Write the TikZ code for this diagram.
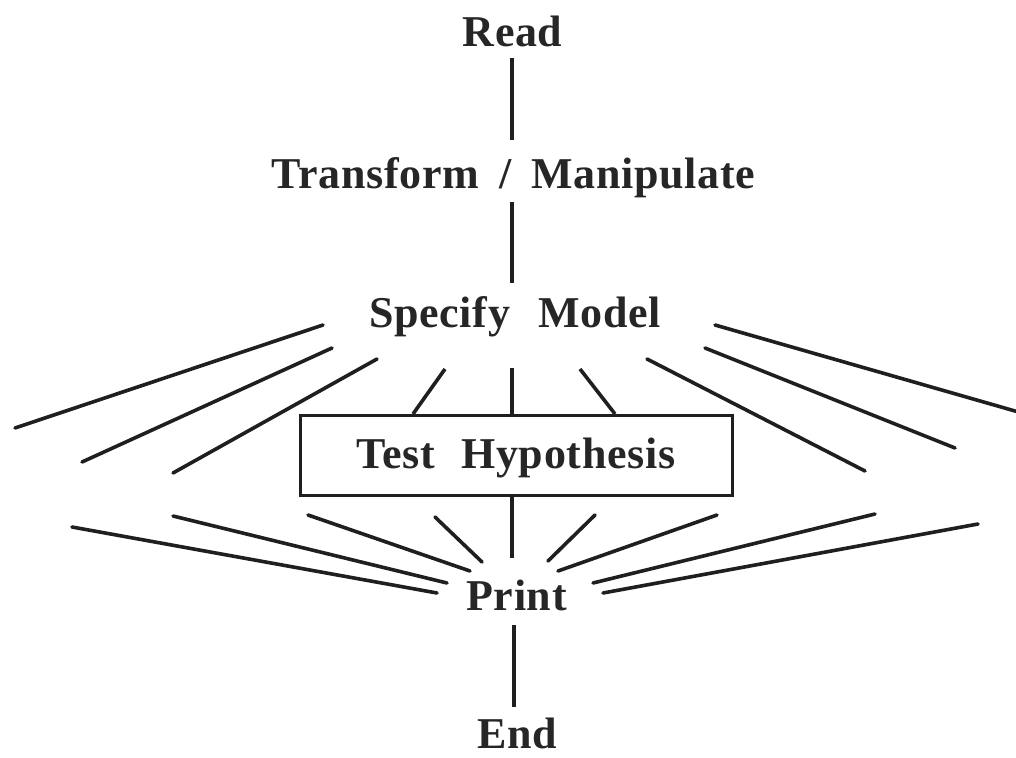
\documentclass[tikz,border=0pt]{standalone}
\usepackage{fontspec}
\setmainfont{Liberation Serif}[LetterSpace=1.5]
\begin{document}
\begin{tikzpicture}[x=1pt,y=-1pt,
  lbl/.style={inner sep=0pt, anchor=base, text=black!85, text depth=0pt,
    font=\fontsize{44}{50}\selectfont\bfseries},
  stroke/.style={line width=3.6pt, draw=black!88, line cap=round},
  vstroke/.style={line width=3.2pt, draw=black!88, line cap=butt},
  boxstyle/.style={draw=black!88, line width=3pt, minimum width=432pt,
    minimum height=80pt, inner sep=0pt}]
\useasboundingbox (0,0) rectangle (1016,757);
\begin{scope}
\clip (0,0) rectangle (1016,757);
% text nodes
\node[lbl] (read) at (512.5,47) {Read};
\node[lbl] (trans) at (513.5,188) {Transform\hspace{20pt}/\hspace{20pt}Manipulate};
\node[lbl] (spec) at (515,327) {Specify\hspace{28pt}Model};
\node[boxstyle] (box) at (516,455) {};
\node[lbl] (test) at (516,468) {Test\hspace{26pt}Hypothesis};
\node[lbl] (print) at (516.5,610) {Print};
\node[lbl] (end) at (517.5,748) {End};

% vertical connectors
\coordinate (r1) at (512,58);   \coordinate (r2) at (512,140);
\coordinate (t1) at (512,202);  \coordinate (t2) at (512,283);
\coordinate (s1) at (512,368);
\coordinate (b1) at (512,558);
\coordinate (p1) at (514,625);  \coordinate (p2) at (514,707);
\draw[vstroke] (r1) -- (r2);
\draw[vstroke] (t1) -- (t2);
\draw[vstroke] (s1) -- (box.north -| s1);
\draw[vstroke] (box.south -| b1) -- (b1);
\draw[vstroke] (p1) -- (p2);

% upper fan
\coordinate (ua1) at (323,325); \coordinate (ua2) at (15,428);
\coordinate (ub1) at (332,348); \coordinate (ub2) at (82,462);
\coordinate (uc1) at (377,359); \coordinate (uc2) at (173,473);
\coordinate (ud1) at (445,369); \coordinate (ud2) at (413,414);
\coordinate (ue1) at (580,369); \coordinate (ue2) at (615,414);
\coordinate (uf1) at (647,359); \coordinate (uf2) at (865,471);
\coordinate (ug1) at (705,348); \coordinate (ug2) at (955,448);
\coordinate (uh1) at (715,325); \coordinate (uh2) at (1022,413);
\draw[stroke] (ua1) -- (ua2);
\draw[stroke] (ub1) -- (ub2);
\draw[stroke] (uc1) -- (uc2);
\draw[stroke,line cap=butt] (ud1) -- (ud2);
\draw[stroke,line cap=butt] (ue1) -- (ue2);
\draw[stroke] (uf1) -- (uf2);
\draw[stroke] (ug1) -- (ug2);
\draw[stroke] (uh1) -- (uh2);

% lower fan
\coordinate (la1) at (72,527);  \coordinate (la2) at (437,593);
\coordinate (lb1) at (173,516); \coordinate (lb2) at (447,583);
\coordinate (lc1) at (308,515); \coordinate (lc2) at (470,571);
\coordinate (ld1) at (435,517); \coordinate (ld2) at (482,562);
\coordinate (le1) at (595,515); \coordinate (le2) at (548,561);
\coordinate (lf1) at (717,515); \coordinate (lf2) at (558,571);
\coordinate (lg1) at (875,514); \coordinate (lg2) at (593,583);
\coordinate (lh1) at (978,524); \coordinate (lh2) at (603,593);
\draw[stroke] (la1) -- (la2);
\draw[stroke] (lb1) -- (lb2);
\draw[stroke] (lc1) -- (lc2);
\draw[stroke] (ld1) -- (ld2);
\draw[stroke] (le1) -- (le2);
\draw[stroke] (lf1) -- (lf2);
\draw[stroke] (lg1) -- (lg2);
\draw[stroke] (lh1) -- (lh2);
\end{scope}
\end{tikzpicture}
\end{document}
